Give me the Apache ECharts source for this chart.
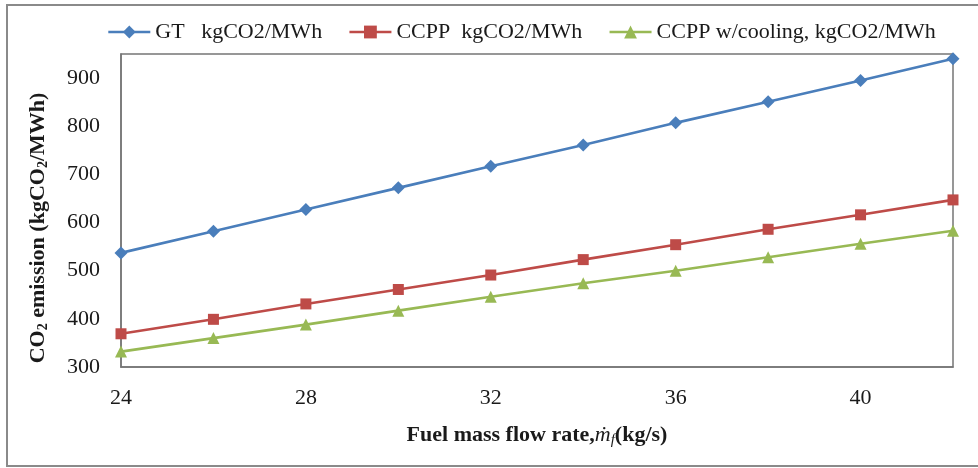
<!DOCTYPE html>
<html>
<head>
<meta charset="utf-8">
<script src="https://cdn.jsdelivr.net/npm/echarts@6/dist/echarts.min.js"></script>
<style>
  html, body { margin: 0; padding: 0; background: #ffffff; }
  #chart { width: 978px; height: 468px; }
</style>
</head>
<body>
<div id="chart"></div>
<script>
// Fuel mass flow rate (kg/s) and CO2 emission per plant configuration (kgCO2/MWh)
var fuelFlow = ['24', '26', '28', '30', '32', '34', '36', '38', '40', '42'];
var gtEmission = [537, 582, 627, 672, 717, 761, 807, 851, 895, 940];
var ccppEmission = [369, 399, 431, 461, 491, 523, 554, 586, 616, 647];
var ccppCoolingEmission = [332, 360, 388, 417, 446, 474, 500, 528, 556, 583];
var seriesNames = ['GT   kgCO2/MWh', 'CCPP  kgCO2/MWh', 'CCPP w/cooling, kgCO2/MWh'];

var FONT = '"Liberation Serif", "Times New Roman", serif';
var TEXT = '#1a1a1a';
var FRAME = '#767676';

var chart = echarts.init(document.getElementById('chart'), null, { renderer: 'canvas' });

function lineSeries(name, data, symbol, size, color) {
  return {
    name: name,
    type: 'line',
    data: data,
    symbol: symbol,
    symbolSize: size,
    showSymbol: true,
    lineStyle: { color: color, width: 2.6 },
    itemStyle: { color: color },
    emphasis: { disabled: true },
    z: 3
  };
}

chart.setOption({
  animation: false,
  backgroundColor: '#ffffff',
  textStyle: { fontFamily: FONT, color: TEXT },
  graphic: [
    {
      type: 'rect',
      shape: { x: 7, y: 5, width: 990, height: 461 },
      style: { fill: 'none', stroke: '#8a8a8a', lineWidth: 2 },
      silent: true,
      z: -1
    },
    {
      type: 'text',
      x: 38,
      y: 228,
      rotation: Math.PI / 2,
      silent: true,
      style: {
        text: '{b|CO}{s|2}{b| emission (kgCO}{s|2}{b|/MWh)}',
        align: 'center',
        verticalAlign: 'middle',
        fill: TEXT,
        rich: {
          b: { fontFamily: FONT, fontSize: 22, fontWeight: 'bold', fill: TEXT },
          s: { fontFamily: FONT, fontSize: 14, fontWeight: 'bold', fill: TEXT, padding: [11, 0, 0, 0] }
        }
      }
    }
  ],
  legend: {
    left: 107,
    top: 21,
    padding: 0,
    itemWidth: 42,
    itemHeight: 16,
    itemGap: 26,
    lineStyle: { width: 2.6 },
    textStyle: { fontFamily: FONT, fontSize: 22, color: TEXT },
    data: seriesNames
  },
  grid: {
    left: 121,
    right: 25,
    top: 54,
    bottom: 101,
    show: true,
    borderColor: FRAME,
    borderWidth: 1.5,
    containLabel: false
  },
  xAxis: {
    type: 'category',
    data: fuelFlow,
    boundaryGap: false,
    axisLine: { show: true, lineStyle: { color: FRAME, width: 1.5 } },
    axisTick: { show: false },
    axisLabel: {
      interval: 1,
      margin: 20,
      fontFamily: FONT,
      fontSize: 22,
      color: TEXT
    },
    splitLine: { show: false },
    name: '{b|Fuel mass flow rate,}{i|ṁ}{is|f}{b|(kg/s)}',
    nameLocation: 'middle',
    nameGap: 55,
    nameTextStyle: {
      rich: {
        b: { fontFamily: FONT, fontSize: 22, fontWeight: 'bold', color: TEXT },
        i: { fontFamily: FONT, fontSize: 22, fontStyle: 'italic', color: TEXT },
        is: { fontFamily: FONT, fontSize: 15, fontStyle: 'italic', color: TEXT, padding: [11, 0, 0, 0] }
      }
    }
  },
  yAxis: {
    type: 'value',
    min: 300,
    max: 950,
    interval: 100,
    axisLine: { show: true, lineStyle: { color: FRAME, width: 1.5 } },
    axisTick: { show: false },
    splitLine: { show: false },
    axisLabel: {
      margin: 21,
      fontFamily: FONT,
      fontSize: 22,
      color: TEXT,
      formatter: function (v) { return v % 100 === 0 ? String(v) : ''; }
    }
  },
  series: [
    lineSeries(seriesNames[0], gtEmission, 'diamond', 13, '#4a7ebb'),
    lineSeries(seriesNames[1], ccppEmission, 'rect', 11, '#be4b48'),
    lineSeries(seriesNames[2], ccppCoolingEmission, 'triangle', 12, '#98b954')
  ]
});
</script>
</body>
</html>
